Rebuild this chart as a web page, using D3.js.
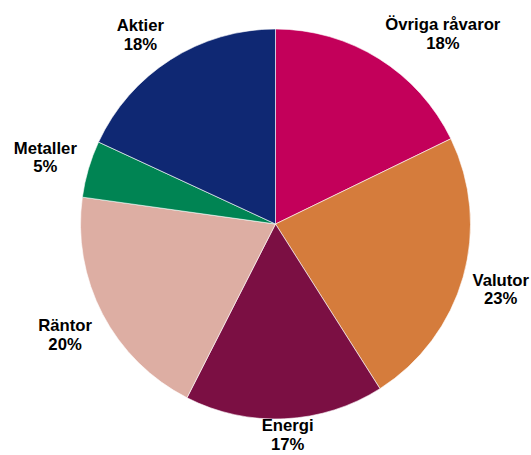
<!DOCTYPE html>
<html>
<head>
<meta charset="utf-8">
<script src="https://cdn.jsdelivr.net/npm/d3@7/dist/d3.min.js"></script>
<style>
  html, body { margin: 0; padding: 0; background: #fff; }
  svg { display: block; }
</style>
</head>
<body>
<svg id="chart" width="531" height="455"></svg>
<script>
// Data (clockwise from 12 o'clock)
const categories = ["Övriga råvaror", "Valutor", "Energi", "Räntor", "Metaller", "Aktier"];
const values     = [17.8, 23.2, 16.5, 19.7, 4.7, 18.1];
const pctLabels  = ["18%", "23%", "17%", "20%", "5%", "18%"];
const colors     = ["#C3005A", "#D57C3C", "#7B0F43", "#DDAEA3", "#008453", "#0F2873"];

const W = 531, H = 455;
const cx = 275.5, cy = 224, radius = 195;
const fontSize = 16.7, capH = 12.3, lineGap = 18.7;

const svg = d3.select("#chart");
const g = svg.append("g").attr("transform", `translate(${cx},${cy})`);

const pie = d3.pie().sort(null).value(d => d.value);
const data = categories.map((c, i) => ({ name: c, value: values[i], pct: pctLabels[i], color: colors[i] }));
const arcs = pie(data);
const arc = d3.arc().innerRadius(0).outerRadius(radius);

g.selectAll("path.slice")
  .data(arcs)
  .enter().append("path")
  .attr("class", "slice")
  .attr("d", arc)
  .attr("fill", d => d.data.color)
  .attr("stroke", "#ffffff")
  .attr("stroke-width", 0.6);

// Labels: outside-end placement, box anchored towards the slice
const labelR = radius + 12;
const f = v => Math.max(-1, Math.min(1, v * 2));
const labels = svg.append("g");

arcs.forEach(a => {
  const mid = (a.startAngle + a.endAngle) / 2;
  const s = Math.sin(mid), c = Math.cos(mid);
  const lg = labels.append("g");
  const t1 = lg.append("text").text(a.data.name);
  const t2 = lg.append("text").text(a.data.pct);
  lg.selectAll("text")
    .attr("font-family", "'Liberation Sans', Arial, sans-serif")
    .attr("font-weight", "bold")
    .attr("font-size", fontSize)
    .attr("fill", "#000")
    .attr("text-anchor", "middle");
  const w = Math.max(t1.node().getComputedTextLength(), t2.node().getComputedTextLength());
  const h = capH + lineGap;
  const px = cx + labelR * s, py = cy - labelR * c;
  let x = px + (w / 2) * f(s);
  let y = py - (h / 2) * f(c);
  // keep inside the chart area (leave room for descenders at the bottom)
  x = Math.max(w / 2 + 2, Math.min(W - w / 2 - 2, x));
  y = Math.max(h / 2 + 2, Math.min(H - h / 2 - 5, y));
  const b1 = y - h / 2 + capH;
  t1.attr("x", x).attr("y", b1);
  t2.attr("x", x).attr("y", b1 + lineGap);
});
</script>
</body>
</html>
